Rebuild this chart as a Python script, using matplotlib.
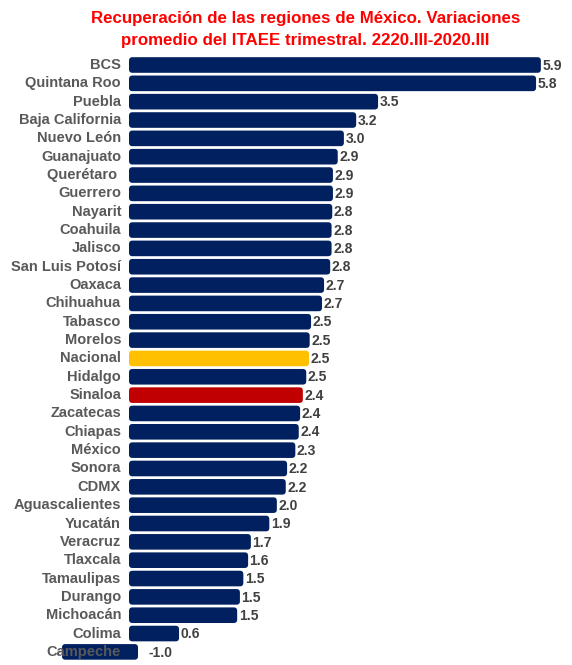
import matplotlib
matplotlib.use("Agg")
import matplotlib.pyplot as plt
from matplotlib.patches import FancyBboxPatch

# --- datos ---
estados = ["BCS", "Quintana Roo", "Puebla", "Baja California", "Nuevo León",
           "Guanajuato", "Querétaro ", "Guerrero", "Nayarit", "Coahuila",
           "Jalisco", "San Luis Potosí", "Oaxaca", "Chihuahua", "Tabasco",
           "Morelos", "Nacional", "Hidalgo", "Sinaloa", "Zacatecas", "Chiapas",
           "México", "Sonora", "CDMX", "Aguascalientes", "Yucatán", "Veracruz",
           "Tlaxcala", "Tamaulipas", "Durango", "Michoacán", "Colima", "Campeche"]
valores = [5.89, 5.82, 3.51, 3.19, 3.01, 2.92, 2.85, 2.85, 2.84, 2.83, 2.83,
           2.81, 2.72, 2.69, 2.53, 2.51, 2.50, 2.46, 2.41, 2.37, 2.35, 2.30,
           2.18, 2.16, 2.03, 1.92, 1.65, 1.61, 1.54, 1.49, 1.45, 0.60, -0.98]
etiquetas = ["5.9", "5.8", "3.5", "3.2", "3.0", "2.9", "2.9", "2.9", "2.8",
             "2.8", "2.8", "2.8", "2.7", "2.7", "2.5", "2.5", "2.5", "2.5",
             "2.4", "2.4", "2.4", "2.3", "2.2", "2.2", "2.0", "1.9", "1.7",
             "1.6", "1.5", "1.5", "1.5", "0.6", "-1.0"]
titulo = ["Recuperación de las regiones de México. Variaciones",
          "promedio del ITAEE trimestral. 2220.III-2020.III"]

AZUL = "#002060"
colores = [AZUL] * len(estados)
colores[estados.index("Nacional")] = "#FFC000"
colores[estados.index("Sinaloa")] = "#C00000"

fig = plt.figure(figsize=(5.72, 6.65), dpi=100)
ax = fig.add_axes([0, 0, 1, 1])
ax.set_xlim(-1.952, 6.411)
ax.set_ylim(32.715, -3.544)
ax.axis("off")

pos = list(range(len(estados)))
barras = ax.barh(pos, valores, height=0.36, color=colores)

# barras con esquinas redondeadas (pad ~4.5 px)
aspecto = 3.73
for b, c in zip(barras, colores):
    bb = b.get_bbox()
    x0, x1 = min(bb.x0, bb.x1), max(bb.x0, bb.x1)
    y0, y1 = min(bb.y0, bb.y1), max(bb.y0, bb.y1)
    b.set_visible(False)
    p = FancyBboxPatch((x0, y0), x1 - x0, y1 - y0,
                       boxstyle="round,pad=0.0658,rounding_size=0.05",
                       mutation_aspect=aspecto, facecolor=c, edgecolor="none",
                       zorder=2)
    ax.add_patch(p)

for i, (nombre, v, et) in enumerate(zip(estados, valores, etiquetas)):
    ax.annotate(nombre, (0, i), xytext=(-9, 0), textcoords="offset points",
                ha="right", va="center", fontsize=10.5, fontweight="bold",
                color="#595959", family=["Liberation Sans", "DejaVu Sans"],
                zorder=3)
    dx = 4.3 if v > 0 else 10.5
    ax.annotate(et, (max(v, 0), i), xytext=(dx, -0.5), textcoords="offset points",
                ha="left", va="center", fontsize=10, fontweight="bold",
                color="#404040",
                family=["Liberation Sans Narrow", "Liberation Sans", "DejaVu Sans"],
                zorder=3)

for k, linea in enumerate(titulo):
    fig.text(0.534, 1 - (18 + 22 * k) / 665, linea, ha="center", va="center",
             fontsize=12.2, fontweight="bold", color="#FF0000",
             family=["Liberation Sans", "DejaVu Sans"])

fig.savefig("out.png", dpi=100, facecolor="white")
